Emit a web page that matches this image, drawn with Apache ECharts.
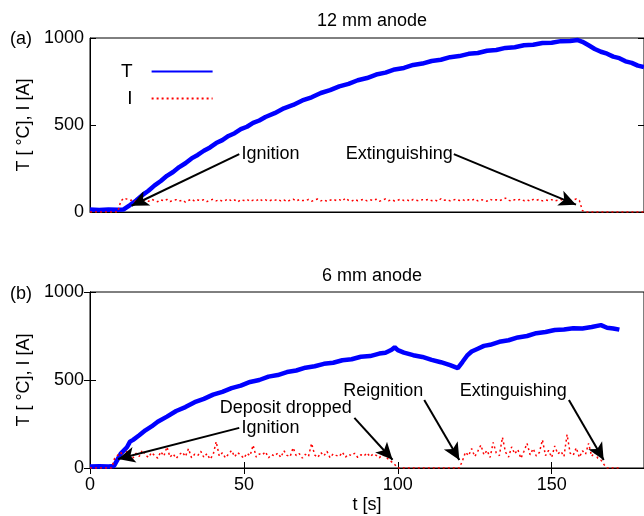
<!DOCTYPE html>
<html>
<head>
<meta charset="utf-8">
<script src="https://cdn.jsdelivr.net/npm/echarts@6/dist/echarts.min.js"></script>
<style>
html, body { margin: 0; padding: 0; background: #fff; }
#chart { width: 644px; height: 516px; }
</style>
</head>
<body>
<div id="chart"></div>
<script>
// (a) 12 mm anode: temperature samples (t in s, T in °C)
const tTopT = [0, 3, 6, 9, 10.8, 13, 15, 17, 19, 21, 23, 25, 27, 29, 31, 33, 35, 37, 39, 41, 43, 45, 47, 49, 51, 53, 55, 57,
    60, 63, 66, 69, 72, 75, 78, 81, 84, 87, 90, 93, 96, 99, 102, 105, 108, 111, 114, 117, 120, 123, 126, 129, 132, 135, 138,
    141, 144, 147, 150, 153, 156, 158.5, 160, 162, 164, 166, 168, 170, 172, 174, 176, 178, 180];
const tempTop = [14, 12, 15, 13, 14, 40, 66, 97, 122, 153, 178, 208, 230, 258, 280, 308, 328, 352, 371, 396, 413, 437, 453, 476, 490, 512, 526, 546,
    568, 596, 615, 641, 659, 684, 700, 722, 736, 757, 770, 790, 801, 819, 828, 845, 853, 868, 875, 890, 896, 909, 914, 927, 931, 943, 947,
    958, 961, 971, 973, 982, 983, 988, 978, 958, 937, 921, 910, 893, 884, 866, 857, 841, 833];
// (a) current, one sample per second from t = 0
const curTop = [
    0, 0, 0, 0, 0, 0, 0, 0, 0, 0,
    62, 80, 74, 66, 70, 58, 72, 64, 69, 61,
    73, 66, 59, 70, 64, 72, 60, 67, 71, 63,
    68, 57, 66, 74, 62, 69, 65, 71, 60, 68,
    73, 64, 70, 62, 67, 75, 63, 69, 58, 71,
    66, 72, 61, 68, 64, 76, 65, 70, 62, 69,
    67, 73, 64, 70, 60, 68, 74, 63, 71, 66,
    65, 72, 62, 69, 75, 64, 70, 61, 68, 73,
    66, 71, 63, 80, 67, 62, 72, 65, 69, 74,
    64, 70, 66, 73, 61, 69, 75, 65, 71, 63,
    68, 74, 66, 70, 62, 72, 67, 64, 71, 68,
    73, 65, 70, 62, 76, 67, 71, 64, 69, 74,
    66, 72, 63, 70, 67, 75, 64, 71, 68, 62,
    73, 66, 70, 65, 72, 80, 67, 63, 71, 68,
    74, 65, 70, 62, 72, 67, 73, 64, 69, 66,
    71, 63, 68, 72, 65, 70, 64, 69, 75, 66,
    8, 0, 0, 0, 0, 0, 0, 0, 0, 0,
    0, 0, 0, 0, 0, 0, 0, 0, 0, 0, 0];

// (b) 6 mm anode
const tBotT = [0, 3, 6, 7.8, 10, 12, 13, 14, 16, 18, 20, 22, 25, 28, 31, 34, 37, 40, 43, 46, 49, 52, 55, 58, 61, 64, 67, 70,
    73, 76, 79, 82, 85, 88, 91, 94, 96, 98, 99, 100, 102, 105, 108, 111, 114, 117, 119.5, 121, 122.5, 124, 126, 128, 130,
    133, 136, 139, 142, 145, 148, 151, 154, 157, 160, 163, 166, 168, 170, 172];
const tempBot = [8, 10, 9, 12, 82, 118, 150, 160, 186, 214, 236, 263, 292, 324, 346, 374, 393, 417, 433, 454, 468, 489, 500, 519, 528, 545, 554, 570,
    578, 592, 598, 612, 618, 632, 636, 650, 655, 672, 686, 670, 656, 641, 631, 614, 601, 584, 567, 602, 638, 662, 678, 694, 700,
    717, 726, 742, 750, 766, 773, 784, 787, 794, 793, 801, 812, 797, 793, 786];
const curBot = [
    0, 0, 0, 0, 0, 0, 0, 0, 55, 72,
    88, 64, 95, 70, 58, 84, 66, 102, 74, 60,
    88, 71, 56, 93, 68, 120, 62, 80, 54, 76,
    90, 65, 110, 58, 78, 70, 95, 60, 82, 50,
    75, 150, 68, 86, 57, 79, 100, 64, 88, 72,
    55, 84, 70, 130, 62, 80, 74, 92, 58, 76,
    68, 85, 60, 98, 72, 64, 115, 70, 82, 56,
    78, 66, 140, 74, 60, 88, 69, 95, 58, 80,
    72, 65, 90, 62, 78, 70, 84, 60, 75, 68,
    86, 64, 80, 72, 58, 76, 66, 48, 35, 20,
    0, 0, 0, 0, 0, 0, 0, 0, 0, 0,
    0, 0, 0, 0, 0, 0, 0, 0, 0, 0,
    0, 40, 90, 70, 110, 65, 95, 130, 75, 100,
    60, 145, 85, 70, 175, 90, 62, 120, 80, 105,
    55, 95, 140, 75, 110, 68, 88, 160, 70, 100,
    60, 125, 80, 95, 65, 190, 85, 72, 115, 60,
    98, 78, 140, 66, 90, 55, 45, 20, 0, 0,
    0, 0, 0];

// annotations: text anchor, arrow start, arrow end (data units)
const notesTop = [
    { text: 'Ignition', at: [48.9, 333], pos: 'right', from: [48.5, 333], to: [13.5, 36] },
    { text: 'Extinguishing', at: [118.2, 333], pos: 'left', from: [118.2, 333], to: [157.9, 42] }
];
const notesBot = [
    { text: 'Deposit dropped', at: [63.6, 341], pos: 'inside', from: [85.9, 285], to: [98.3, 47] },
    { text: 'Ignition', at: [48.9, 228], pos: 'right', from: [48.5, 228], to: [9.1, 51] },
    { text: 'Reignition', at: [95.3, 438], pos: 'inside', from: [108.6, 387], to: [120, 45] },
    { text: 'Extinguishing', at: [137.5, 438], pos: 'inside', from: [155.6, 387], to: [166.9, 45] }
];

const FONT = 'Liberation Sans, Arial, sans-serif';
const zip = (xs, ys) => xs.map((x, i) => [x, ys[i]]);
const perSecond = arr => arr.map((v, i) => [i, v]);

function arrows(notes) {
    return {
        silent: true,
        symbol: ['none', 'arrow'],
        symbolSize: [12, 17],
        lineStyle: { color: '#000', width: 2, type: 'solid' },
        label: { show: false },
        emphasis: { disabled: true },
        data: notes.map(n => [{ coord: n.from }, { coord: n.to }])
    };
}
function texts(notes) {
    return {
        silent: true,
        symbol: 'circle',
        symbolSize: 0,
        itemStyle: { color: 'rgba(0,0,0,0)' },
        label: { show: true, color: '#000', fontSize: 18, fontFamily: FONT, formatter: '{b}' },
        data: notes.map(n => ({ name: n.text, coord: n.at, label: { position: n.pos, distance: 1 } }))
    };
}

function yAxes(grid) {
    const base = {
        gridIndex: grid, type: 'value', min: 0, max: 1000, interval: 500,
        axisLine: { show: true, lineStyle: { color: '#000', width: 1 } },
        axisTick: { show: true, inside: true, length: 6, lineStyle: { color: '#000' } },
        splitLine: { show: false }
    };
    return [
        Object.assign({}, base, {
            position: 'left',
            axisLabel: { fontSize: 18, color: '#000', margin: 6, fontFamily: FONT, formatter: v => String(v) },
            name: 'T [ °C], I [A]',
            nameLocation: 'middle', nameGap: 51,
            nameTextStyle: { fontSize: 18, color: '#000', fontFamily: FONT }
        }),
        Object.assign({}, base, { position: 'right', axisLabel: { show: false } })
    ];
}

const chart = echarts.init(document.getElementById('chart'));
chart.setOption({
    animation: false,
    backgroundColor: '#fff',
    textStyle: { fontFamily: FONT },
    title: [
        { text: '12 mm anode', left: 367, top: 7, textAlign: 'center', textStyle: { fontSize: 18, fontWeight: 'normal', color: '#000' } },
        { text: '6 mm anode', left: 367, top: 262, textAlign: 'center', textStyle: { fontSize: 18, fontWeight: 'normal', color: '#000' } },
        { text: '(a)', left: 5, top: 25, textStyle: { fontSize: 18, fontWeight: 'normal', color: '#000' } },
        { text: '(b)', left: 5, top: 280, textStyle: { fontSize: 18, fontWeight: 'normal', color: '#000' } }
    ],
    legend: {
        data: ['T', 'I'],
        orient: 'vertical',
        left: 121, top: 62,
        align: 'right',
        itemWidth: 61, itemHeight: 12, itemGap: 8,
        padding: 0,
        itemStyle: { opacity: 0 },
        textStyle: { fontSize: 19, color: '#000', padding: [0, 14, 0, 0] }
    },
    grid: [
        { left: 90, top: 38, right: -2, height: 174, show: true, borderColor: '#000', borderWidth: 1, backgroundColor: '#fff' },
        { left: 90, top: 292, right: -2, height: 176, show: true, borderColor: '#000', borderWidth: 1, backgroundColor: '#fff' }
    ],
    xAxis: [
        {
            gridIndex: 0, type: 'value', min: 0, max: 180, interval: 50,
            axisLine: { lineStyle: { color: '#000' } }, axisTick: { show: false }, axisLabel: { show: false }, splitLine: { show: false }
        },
        {
            gridIndex: 1, type: 'value', min: 0, max: 180, interval: 50, position: 'bottom',
            axisLine: { lineStyle: { color: '#000' } },
            axisTick: { inside: true, length: 6, lineStyle: { color: '#000' } },
            axisLabel: { fontSize: 18, color: '#000', margin: 8, showMaxLabel: false, fontFamily: FONT },
            splitLine: { show: false },
            name: 't [s]', nameLocation: 'middle', nameGap: 28,
            nameTextStyle: { fontSize: 18, color: '#000', fontFamily: FONT }
        },
        {
            gridIndex: 1, type: 'value', min: 0, max: 180, interval: 50, position: 'top',
            axisLine: { lineStyle: { color: '#000' } },
            axisTick: { inside: true, length: 6, lineStyle: { color: '#000' } },
            axisLabel: { show: false }, splitLine: { show: false }
        }
    ],
    yAxis: [].concat(yAxes(0), yAxes(1)),
    series: [
        {
            name: 'T', type: 'line', xAxisIndex: 0, yAxisIndex: 0, symbol: 'none',
            data: zip(tTopT, tempTop),
            lineStyle: { color: '#0000ff', width: 4.5 }, itemStyle: { color: '#0000ff' },
            markLine: arrows(notesTop), markPoint: texts(notesTop)
        },
        {
            name: 'I', type: 'line', xAxisIndex: 0, yAxisIndex: 0, symbol: 'none',
            data: perSecond(curTop),
            lineStyle: { color: '#ff0000', width: 1.5, type: [2, 3] }, itemStyle: { color: '#ff0000' }
        },
        {
            name: 'T', type: 'line', xAxisIndex: 1, yAxisIndex: 2, symbol: 'none',
            data: zip(tBotT, tempBot),
            lineStyle: { color: '#0000ff', width: 4.5 }, itemStyle: { color: '#0000ff' },
            markLine: arrows(notesBot), markPoint: texts(notesBot)
        },
        {
            name: 'I', type: 'line', xAxisIndex: 1, yAxisIndex: 2, symbol: 'none',
            data: perSecond(curBot),
            lineStyle: { color: '#ff0000', width: 1.5, type: [2, 3] }, itemStyle: { color: '#ff0000' }
        }
    ]
});
</script>
</body>
</html>
